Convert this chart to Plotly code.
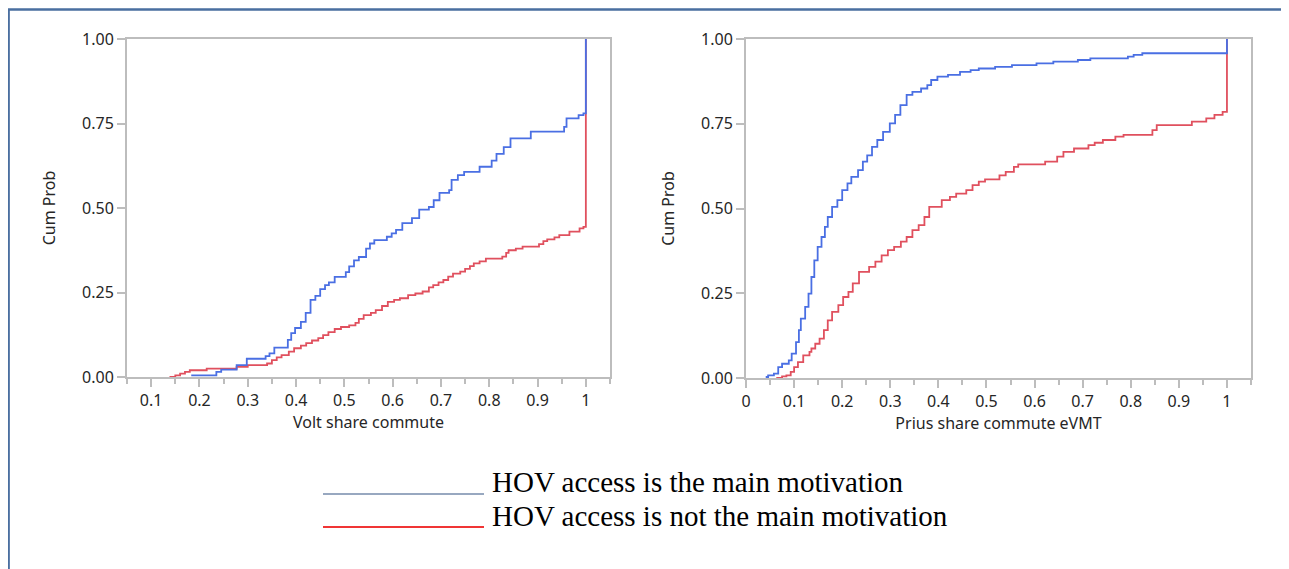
import plotly.graph_objects as go

# ---------------- data ----------------
volt_main_x = [0.183, 0.235, 0.245, 0.277, 0.298, 0.337, 0.345, 0.355, 0.383, 0.39, 0.398, 0.41, 0.42, 0.43,
               0.44, 0.45, 0.46, 0.468, 0.48, 0.503, 0.51, 0.52, 0.53, 0.545, 0.553, 0.562, 0.588, 0.598,
               0.607, 0.62, 0.64, 0.655, 0.675, 0.685, 0.697, 0.717, 0.722, 0.735, 0.748, 0.78, 0.805,
               0.815, 0.83, 0.844, 0.886, 0.955, 0.96, 0.985, 0.995, 1.0]
volt_main_y = [0.005, 0.015, 0.022, 0.035, 0.054, 0.062, 0.07, 0.087, 0.11, 0.13, 0.145, 0.163, 0.19, 0.228,
               0.24, 0.26, 0.272, 0.28, 0.296, 0.31, 0.327, 0.345, 0.355, 0.38, 0.395, 0.405, 0.415, 0.425,
               0.435, 0.455, 0.47, 0.495, 0.503, 0.523, 0.545, 0.553, 0.583, 0.597, 0.607, 0.622, 0.64,
               0.66, 0.68, 0.706, 0.726, 0.74, 0.765, 0.775, 0.78, 1.0]

volt_not_x = [0.138, 0.15, 0.16, 0.17, 0.18, 0.215, 0.277, 0.3, 0.34, 0.35, 0.36, 0.37, 0.385, 0.396, 0.41,
              0.421, 0.433, 0.446, 0.456, 0.467, 0.48, 0.493, 0.51, 0.523, 0.53, 0.54, 0.555, 0.565, 0.578,
              0.59, 0.603, 0.615, 0.632, 0.647, 0.662, 0.675, 0.684, 0.695, 0.705, 0.715, 0.725, 0.74,
              0.75, 0.76, 0.768, 0.78, 0.793, 0.827, 0.835, 0.84, 0.855, 0.869, 0.903, 0.912, 0.92,
              0.935, 0.945, 0.966, 0.987, 0.995, 1.0]
volt_not_y = [0.0, 0.005, 0.01, 0.015, 0.02, 0.025, 0.03, 0.035, 0.04, 0.05, 0.058, 0.065, 0.075, 0.085, 0.093,
              0.1, 0.108, 0.115, 0.124, 0.133, 0.142, 0.148, 0.153, 0.16, 0.172, 0.183, 0.19, 0.198, 0.21,
              0.222, 0.228, 0.233, 0.242, 0.247, 0.253, 0.265, 0.272, 0.28, 0.287, 0.297, 0.306, 0.312,
              0.32, 0.328, 0.336, 0.342, 0.35, 0.356, 0.367, 0.375, 0.38, 0.386, 0.393, 0.402, 0.407,
              0.413, 0.42, 0.43, 0.44, 0.444, 1.0]

prius_main_x = [0.041, 0.046, 0.058, 0.067, 0.075, 0.089, 0.095, 0.104, 0.11, 0.114, 0.123, 0.13, 0.136,
                0.142, 0.149, 0.157, 0.164, 0.17, 0.179, 0.19, 0.2, 0.211, 0.219, 0.233, 0.243, 0.252,
                0.262, 0.273, 0.285, 0.299, 0.31, 0.321, 0.334, 0.346, 0.364, 0.377, 0.385, 0.398, 0.42,
                0.445, 0.467, 0.484, 0.518, 0.553, 0.604, 0.639, 0.69, 0.716, 0.794, 0.806, 0.824, 1.0]
prius_main_y = [0.003, 0.008, 0.013, 0.032, 0.042, 0.052, 0.072, 0.106, 0.141, 0.175, 0.21, 0.249, 0.298,
                0.347, 0.387, 0.416, 0.446, 0.475, 0.505, 0.525, 0.554, 0.574, 0.593, 0.613, 0.638, 0.657,
                0.682, 0.702, 0.726, 0.751, 0.776, 0.805, 0.835, 0.844, 0.854, 0.864, 0.879, 0.889, 0.894,
                0.903, 0.908, 0.913, 0.918, 0.923, 0.928, 0.933, 0.938, 0.943, 0.948, 0.953, 0.958, 1.0]

prius_not_x = [0.063, 0.075, 0.084, 0.093, 0.1, 0.108, 0.119, 0.132, 0.136, 0.144, 0.153, 0.162, 0.17, 0.179,
               0.192, 0.202, 0.213, 0.222, 0.235, 0.256, 0.269, 0.282, 0.295, 0.308, 0.322, 0.334, 0.346,
               0.359, 0.371, 0.381, 0.407, 0.424, 0.437, 0.458, 0.471, 0.484, 0.497, 0.527, 0.54, 0.557,
               0.566, 0.622, 0.647, 0.66, 0.682, 0.712, 0.725, 0.742, 0.768, 0.785, 0.845, 0.854, 0.927,
               0.957, 0.974, 0.991, 1.0]
prius_not_y = [0.0, 0.005, 0.008, 0.018, 0.032, 0.047, 0.067, 0.077, 0.087, 0.101, 0.116, 0.141, 0.17, 0.195,
               0.215, 0.239, 0.254, 0.279, 0.313, 0.328, 0.343, 0.362, 0.377, 0.387, 0.402, 0.416, 0.436,
               0.451, 0.475, 0.505, 0.525, 0.534, 0.544, 0.554, 0.569, 0.579, 0.586, 0.598, 0.608, 0.623,
               0.63, 0.638, 0.653, 0.667, 0.677, 0.687, 0.694, 0.702, 0.712, 0.717, 0.731, 0.746, 0.756,
               0.766, 0.776, 0.785, 1.0]

left_xticks = [0.1, 0.2, 0.3, 0.4, 0.5, 0.6, 0.7, 0.8, 0.9, 1.0]
left_xticklabels = ["0.1", "0.2", "0.3", "0.4", "0.5", "0.6", "0.7", "0.8", "0.9", "1"]
right_xticks = [0, 0.1, 0.2, 0.3, 0.4, 0.5, 0.6, 0.7, 0.8, 0.9, 1.0]
right_xticklabels = ["0", "0.1", "0.2", "0.3", "0.4", "0.5", "0.6", "0.7", "0.8", "0.9", "1"]
yticks = [0, 0.25, 0.5, 0.75, 1.0]
yticklabels = ["0.00", "0.25", "0.50", "0.75", "1.00"]

legend_labels = ["HOV access is the main motivation", "HOV access is not the main motivation"]

# ---------------- styling ----------------
# the page body has an 8px margin, so the figure is placed 8px in from the window corner
OFF = 8
W, H = 1289 - OFF, 569 - OFF
BLUE = "#4A6FE3"
RED = "#E0505E"
FRAME = "#BDBDBD"
TXT = "#262626"
FONT = "Noto Sans"
LW = 1.8

fig = go.Figure()

fig.add_trace(go.Scatter(x=volt_not_x, y=volt_not_y, mode="lines", line=dict(color=RED, width=LW, shape="hv"),
                         xaxis="x", yaxis="y", name=legend_labels[1], showlegend=False))
fig.add_trace(go.Scatter(x=volt_main_x, y=volt_main_y, mode="lines", line=dict(color=BLUE, width=LW, shape="hv"),
                         xaxis="x", yaxis="y", name=legend_labels[0], showlegend=False))
fig.add_trace(go.Scatter(x=prius_not_x, y=prius_not_y, mode="lines", line=dict(color=RED, width=LW, shape="hv"),
                         xaxis="x2", yaxis="y2", name=legend_labels[1], showlegend=False))
fig.add_trace(go.Scatter(x=prius_main_x, y=prius_main_y, mode="lines", line=dict(color=BLUE, width=LW, shape="hv"),
                         xaxis="x2", yaxis="y2", name=legend_labels[0], showlegend=False))

def px(v):
    # window pixel x -> paper fraction
    return (v - OFF) / W

def py(v):
    # window pixel y -> paper fraction
    return 1 - (v - OFF) / H

xcommon = dict(showgrid=False, zeroline=False, showline=True, linecolor=FRAME, linewidth=2, mirror=True,
               automargin=False,
               ticks="outside", ticklen=8, tickwidth=2, tickcolor=FRAME,
               tickfont=dict(family=FONT, size=16, color=TXT),
               minor=dict(ticks="outside", dtick=0.05, ticklen=5, tickwidth=2, tickcolor=FRAME))
ycommon = dict(showgrid=False, zeroline=False, showline=True, linecolor=FRAME, linewidth=2, mirror=True,
               automargin=False,
               ticks="outside", ticklen=8, tickwidth=2, tickcolor=FRAME, range=[0, 1],
               tickvals=yticks, ticktext=yticklabels,
               tickfont=dict(family=FONT, size=16, color=TXT))

fig.update_layout(
    width=W, height=H,
    margin=dict(l=0, r=0, t=0, b=0, autoexpand=False),
    paper_bgcolor="white", plot_bgcolor="white",
    showlegend=False,
    xaxis=dict(**xcommon, domain=[px(127), px(610)], range=[0.05, 1.05],
               tickvals=left_xticks, ticktext=left_xticklabels, anchor="y",
               title=dict(text="Volt share commute", font=dict(family=FONT, size=16, color=TXT), standoff=4)),
    yaxis=dict(**ycommon, domain=[py(377), py(39)], anchor="x",
               title=dict(text="Cum Prob", font=dict(family=FONT, size=16, color=TXT), standoff=22)),
    xaxis2=dict(**xcommon, domain=[px(746), px(1251)], range=[0, 1.05],
                tickvals=right_xticks, ticktext=right_xticklabels, anchor="y2",
                title=dict(text="Prius share commute eVMT", font=dict(family=FONT, size=16, color=TXT), standoff=4)),
    yaxis2=dict(**ycommon, domain=[py(378), py(39)], anchor="x2",
                title=dict(text="Cum Prob", font=dict(family=FONT, size=16, color=TXT), standoff=22)),
)

# outer frame (page border)
fig.add_shape(type="rect", xref="paper", yref="paper", x0=px(8.6), x1=px(1320), y0=py(620), y1=py(9.5),
              line=dict(color="#4A6FA0", width=2.5), fillcolor="rgba(0,0,0,0)", layer="above")

# legend: coloured rules followed by text
legend_colors = ["#98A8C0", "#F03535"]
legend_line_y = [494, 527]
legend_text_y = [482, 516]
for lab, col, ly, ty in zip(legend_labels, legend_colors, legend_line_y, legend_text_y):
    fig.add_shape(type="line", xref="paper", yref="paper", x0=px(323), x1=px(484), y0=py(ly), y1=py(ly),
                  line=dict(color=col, width=2))
    fig.add_annotation(text=lab, xref="paper", yref="paper", x=px(490), y=py(ty), xanchor="left",
                       yanchor="middle", showarrow=False,
                       font=dict(family="Liberation Serif", size=29, color="black"))

fig.write_html("out.html")
